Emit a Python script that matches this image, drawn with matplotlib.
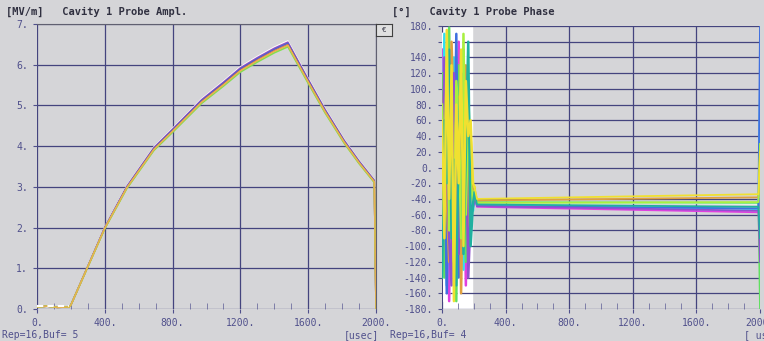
import numpy as np
import matplotlib
matplotlib.use('Agg')
import matplotlib.pyplot as plt
from matplotlib.ticker import FuncFormatter, MultipleLocator

# amplitude trace (usec, MV/m)
amp_t = [0, 60, 120, 190, 200, 300, 400, 530, 690, 800, 971, 1100, 1200, 1300, 1400, 1480,
         1600, 1700, 1812, 1900, 1990, 2000]
amp_v = [0.05, 0.07, 0.04, 0.05, 0.1, 1.05, 2.0, 3.0, 3.95, 4.4, 5.12, 5.55, 5.9, 6.15, 6.38, 6.53,
         5.62, 4.88, 4.13, 3.62, 3.15, 0.0]
amp_gain = [1.008, 1.004, 1.0, 0.994, 0.99, 0.986, 0.992]
amp_colors = ['#ffffff', '#a050c0', '#5060d0', '#c05050', '#e8e840', '#80e050', '#e8b050']

# phase traces (deg): noisy start, flat part, jump at the end of the pulse
ph_t_noise = [0, 15, 30, 45, 60, 75, 90, 105, 120, 135, 150, 165, 180, 195]
ph_noise = [
    [170, -170, 150, -160, 175, -175, 160, -165, 170, -150, 140, -120, 20, -30],
    [150, -60, 120, -170, 90, 30, -120, 160, -40, 70, -150, 20, -80, -30],
    [-20, 170, -150, 60, -110, 140, -90, 10, 100, -130, 40, -60, -10, -55],
    [120, -140, 40, 178, -60, 100, -170, 130, -10, 60, -120, 90, 10, -40],
    [-100, 30, -160, 110, 20, -50, 170, -140, 80, 150, -30, -70, -50, -48],
    [30, 100, -40, -120, 160, 60, -20, 90, -160, 20, 130, -100, 40, -45],
    [-60, 140, 10, -90, -150, 120, 50, -110, 140, -50, 80, -140, -60, -50],
    [80, -30, 130, -80, 40, -120, 110, 60, -90, 170, -60, 70, -20, -42],
    [-140, 60, -20, 150, -90, 10, -150, 40, 120, -110, 20, 160, -100, -46],
    [60, -90, 175, -40, 130, -170, 80, -20, 150, -100, 110, 40, 60, -20],
]
ph_start = [-44, -50, -48, -44, -49, -42, -49, -45, -47, -40]
ph_end = [-46, -57, -53, -45, -52, -38, -55, -44, -50, -34]
ph_final = [60, -40, 110, -180, 180, -10, -120, 30, -90, 20]
ph_colors = ['#ffffff', '#e040e0', '#30e0f0', '#60e060', '#4070e0', '#e0a040', '#9050d0',
             '#a8f040', '#20b0a0', '#f0e030']

bg = '#d5d5d8'
grid_c = '#44447e'
lab_c = '#50508c'
mono = 'DejaVu Sans Mono'

fig = plt.figure(figsize=(7.64, 3.41), dpi=100, facecolor=bg)

# ---- left panel: amplitude
ax1 = fig.add_axes([37/764, 32/341, (376-37)/764, (309-24)/341], facecolor=bg)
for g, c in zip(amp_gain, amp_colors):
    ax1.plot(amp_t, np.array(amp_v) * g, color=c, lw=1.1)
ax1.plot([0, 190], [0.07, 0.07], color='white', lw=1.5, ls=(0, (3, 2)))
ax1.set_xlim(0, 2000)
ax1.set_ylim(0, 7)
ax1.xaxis.set_major_locator(MultipleLocator(400))
ax1.xaxis.set_minor_locator(MultipleLocator(100))
ax1.yaxis.set_major_locator(MultipleLocator(1))
ax1.xaxis.set_major_formatter(FuncFormatter(lambda v, p: '%d.' % v))
ax1.yaxis.set_major_formatter(FuncFormatter(lambda v, p: '%d.' % v))
ax1.grid(True, color=grid_c, lw=0.9)
ax1.tick_params(colors=lab_c, labelsize=7, length=3, width=0.8)
ax1.tick_params(axis='x', which='minor', direction='in', length=4, color='#7070a0')
for lab in ax1.get_xticklabels() + ax1.get_yticklabels():
    lab.set_family(mono)
for s in ax1.spines.values():
    s.set_color('#606070')
    s.set_linewidth(0.8)
ax1.spines['left'].set_visible(False)
ax1.spines['bottom'].set_visible(False)

# ---- right panel: phase
ax2 = fig.add_axes([442/764, 32/341, (760-442)/764, (309-26)/341], facecolor=bg)
ax2.axvspan(0, 190, color='white', zorder=1)
for i in range(len(ph_noise)):
    # noisy part before the RF pulse is on
    ax2.plot(ph_t_noise + [205], ph_noise[i] + [ph_start[i] + 15],
             color=ph_colors[i], lw=1.8, zorder=3)
    # flat part during the pulse and the jump at its end
    ax2.plot([205, 220, 1990, 2000], [ph_start[i] + 15, ph_start[i], ph_end[i], ph_final[i]],
             color=ph_colors[i], lw=1.3, zorder=3)
ax2.set_xlim(0, 2000)
ax2.set_ylim(-180, 180)
ax2.xaxis.set_major_locator(MultipleLocator(400))
ax2.xaxis.set_minor_locator(MultipleLocator(100))
ax2.yaxis.set_major_locator(MultipleLocator(20))
ax2.xaxis.set_major_formatter(FuncFormatter(lambda v, p: '%d.' % v))
ax2.yaxis.set_major_formatter(FuncFormatter(lambda v, p: '' if v == 160 else '%d.' % v))
ax2.grid(True, color=grid_c, lw=0.9, zorder=2)
ax2.set_axisbelow(False)
ax2.tick_params(colors=lab_c, labelsize=7, length=3, width=0.8)
ax2.tick_params(axis='x', which='minor', direction='in', length=4, color='#7070a0')
for lab in ax2.get_xticklabels() + ax2.get_yticklabels():
    lab.set_family(mono)
for s in ax2.spines.values():
    s.set_visible(False)

# titles and footer texts
fig.text(6/764, 1 - 12/341, '[MV/m]   Cavity 1 Probe Ampl.', family=mono, fontsize=7.5,
         color='#303040', fontweight='bold', va='center')
fig.text(392/764, 1 - 12/341, '[°]   Cavity 1 Probe Phase', family=mono, fontsize=7.5,
         color='#303040', fontweight='bold', va='center')
fig.text(2/764, 1 - 335/341, 'Rep=16,Buf= 5', family=mono, fontsize=7, color=lab_c, va='center')
fig.text(344/764, 1 - 335/341, '[usec]', family=mono, fontsize=7, color=lab_c, va='center')
fig.text(390/764, 1 - 335/341, 'Rep=16,Buf= 4', family=mono, fontsize=7, color=lab_c, va='center')
fig.text(744/764, 1 - 335/341, '[ usec]', family=mono, fontsize=7, color=lab_c, va='center')

# small button next to the left panel
btn = fig.add_axes([376/764, 1 - 36/341, 16/764, 12/341], facecolor='#e0e0e0')
btn.set_xticks([])
btn.set_yticks([])
btn.text(0.5, 0.5, '€', ha='center', va='center', fontsize=5, color='#303040')
for s in btn.spines.values():
    s.set_color('#404040')

fig.savefig('out.png', dpi=100, facecolor=bg)
